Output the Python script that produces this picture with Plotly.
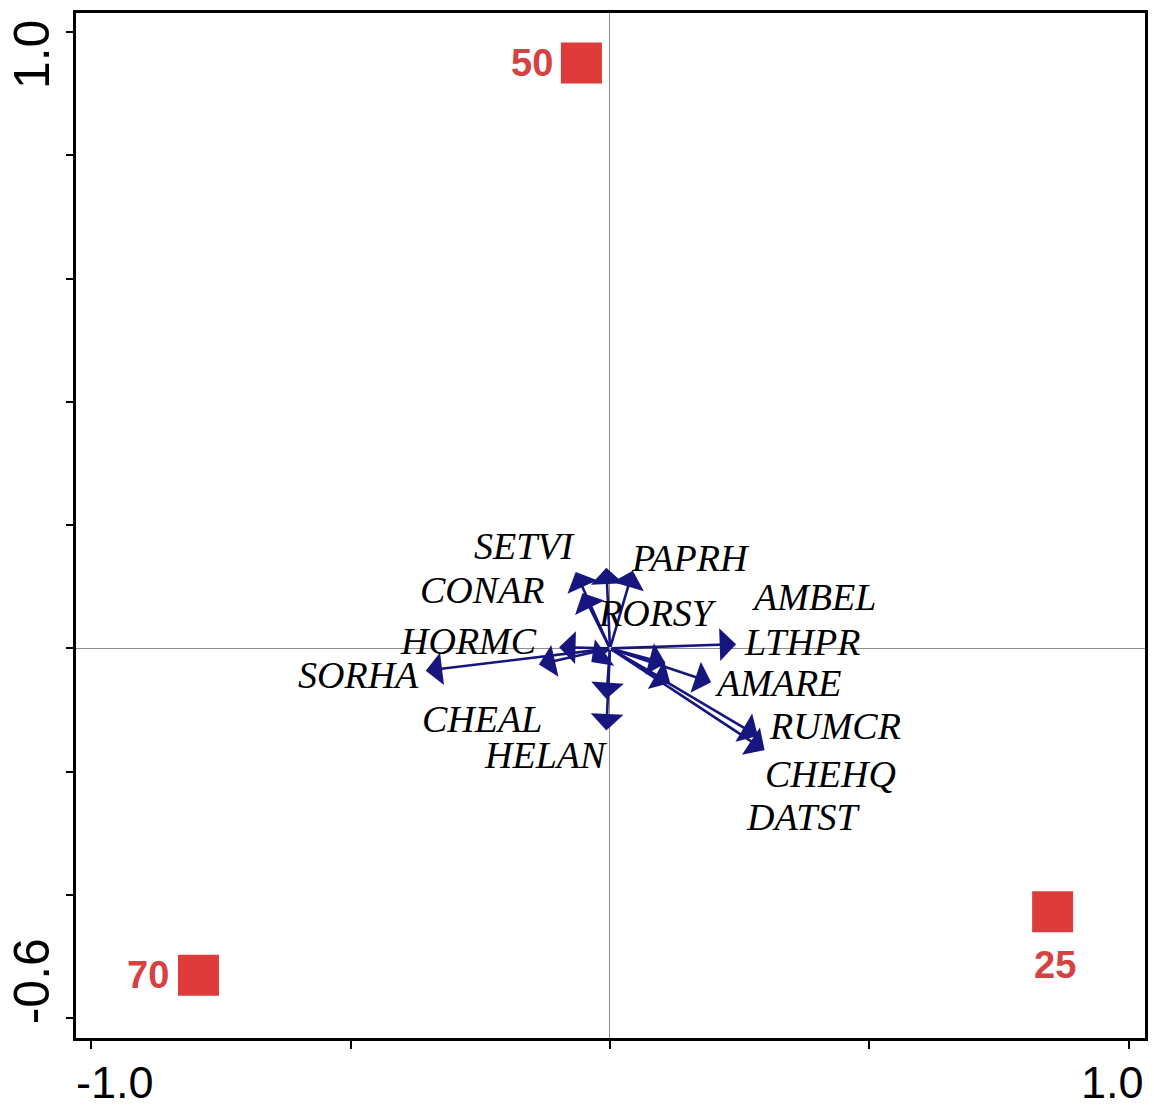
import plotly.graph_objects as go

# ---- data ----
# species arrow tips (biplot scores)
arrow_x = [-0.066, -0.053, -0.007, 0.044, 0.243, 0.107, 0.195, 0.116, 0.285, 0.298,
           -0.007, -0.007, -0.355, -0.098, -0.137, -0.036]
arrow_y = [0.124, 0.090, 0.131, 0.126, 0.007, -0.024, -0.055, -0.056, -0.142, -0.165,
           -0.082, -0.133, -0.036, 0.002, -0.026, -0.022]

# species labels
species = ["SETVI", "PAPRH", "CONAR", "RORSY", "AMBEL", "HORMC", "LTHPR",
           "SORHA", "AMARE", "CHEAL", "RUMCR", "HELAN", "CHEHQ", "DATST"]
label_x = [-0.164, 0.155, -0.245, 0.091, 0.393, -0.272, 0.370,
           -0.485, 0.324, -0.247, 0.433, -0.124, 0.425, 0.372]
label_y = [0.166, 0.147, 0.095, 0.058, 0.084, 0.012, 0.011,
           -0.043, -0.056, -0.114, -0.126, -0.173, -0.204, -0.273]

# sample / treatment points
sample_names = ["50", "70", "25"]
sample_x = [-0.055, -0.793, 0.853]
sample_y = [0.950, -0.530, -0.427]

# axis ticks
x_tick_vals = [-1.0, -0.5, 0.0, 0.5, 1.0]
x_tick_text = ["-1.0", "", "", "", "1.0"]
y_tick_vals = [-0.6, -0.4, -0.2, 0.0, 0.2, 0.4, 0.6, 0.8, 1.0]
y_tick_text = ["-0.6", "", "", "", "", "", "", "", "1.0"]

# ---- styles ----
ARROW_COLOR = "#16167e"
RED = "#e03b3b"
RED_TEXT = "#d64242"
sample_label_shift = {"50": (-49, 0), "70": (-50, 0), "25": (2, -53)}
x_tick_shift = {"-1.0": 24, "1.0": -16}
y_tick_shift = {"-0.6": 37, "1.0": -22}

fig = go.Figure()

fig.add_trace(go.Scatter(
    x=sample_x, y=sample_y, mode="markers",
    marker=dict(symbol="square", size=41, color=RED, line=dict(width=0)),
    hoverinfo="skip", showlegend=False,
))

annotations = []
for ax_, ay_ in zip(arrow_x, arrow_y):
    annotations.append(dict(
        x=ax_, y=ay_, ax=0, ay=0, xref="x", yref="y", axref="x", ayref="y",
        text="", showarrow=True, arrowhead=1, arrowsize=2.1, arrowwidth=2.6,
        arrowcolor=ARROW_COLOR, standoff=0, startstandoff=0,
    ))

for name, lx, ly in zip(species, label_x, label_y):
    annotations.append(dict(
        x=lx, y=ly, xref="x", yref="y", text="<i>" + name + "</i>", showarrow=False,
        xanchor="center", yanchor="middle",
        font=dict(family="Liberation Serif", size=38, color="black"),
    ))

for name, sx, sy in zip(sample_names, sample_x, sample_y):
    dx, dy = sample_label_shift[name]
    annotations.append(dict(
        x=sx, y=sy, xref="x", yref="y", text="<b>" + name + "</b>",
        showarrow=False, xanchor="center", yanchor="middle",
        xshift=dx, yshift=dy,
        font=dict(family="Liberation Sans", size=38, color=RED_TEXT),
    ))

for v, t in zip(x_tick_vals, x_tick_text):
    if t:
        annotations.append(dict(
            x=v, y=0, xref="x", yref="paper", text=t, showarrow=False,
            xanchor="center", yanchor="middle", xshift=x_tick_shift[t], yshift=-44,
            font=dict(family="Liberation Sans", size=45, color="black"),
        ))
for v, t in zip(y_tick_vals, y_tick_text):
    if t:
        annotations.append(dict(
            x=0, y=v, xref="paper", yref="y", text=t, showarrow=False,
            xanchor="center", yanchor="middle", xshift=-44, yshift=y_tick_shift[t],
            textangle=-90,
            font=dict(family="Liberation Sans", size=50, color="black"),
        ))

fig.update_layout(
    width=1154, height=1108,
    margin=dict(l=76, r=6, t=13, b=70),
    paper_bgcolor="white", plot_bgcolor="white",
    showlegend=False,
    annotations=annotations,
    xaxis=dict(
        range=[-1.029, 1.031], tickvals=x_tick_vals, ticktext=x_tick_text,
        showticklabels=False, ticks="outside", ticklen=8, tickwidth=2, tickcolor="black",
        showgrid=False, zeroline=True, zerolinecolor="#8c8c8c", zerolinewidth=1,
        showline=True, linecolor="black", linewidth=2.5, mirror=True,
    ),
    yaxis=dict(
        range=[-0.632, 1.031], tickvals=y_tick_vals, ticktext=y_tick_text,
        showticklabels=False, ticks="outside", ticklen=7, tickwidth=2, tickcolor="black",
        showgrid=False, zeroline=True, zerolinecolor="#8c8c8c", zerolinewidth=1,
        showline=True, linecolor="black", linewidth=2.5, mirror=True,
    ),
)

fig.write_html(
    "out.html",
    config={"displayModeBar": False},
    post_script="document.body.style.margin='0';document.body.style.overflow='hidden';",
)
